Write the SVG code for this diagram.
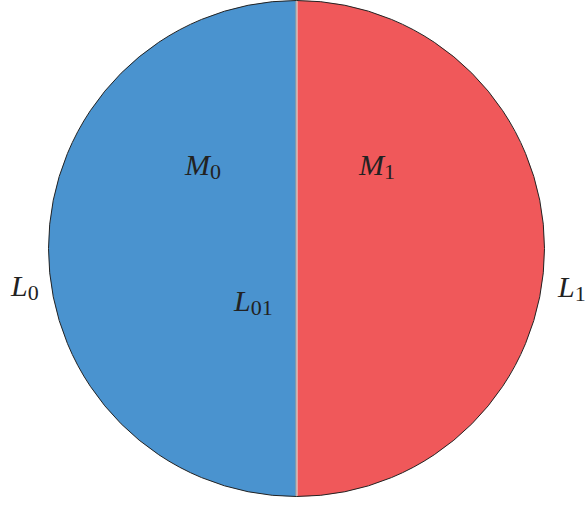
<svg xmlns="http://www.w3.org/2000/svg" width="587" height="505" viewBox="0 0 587 505">
<style>
.lbl{font-family:"Liberation Serif","DejaVu Serif",serif;font-size:30px;fill:#222;font-style:italic}
.sub{font-style:normal;font-size:22px}
</style>
<rect width="587" height="505" fill="#fff"/>
<g id="M0">
<path d="M296.5,0.5 A248,248 0 0 0 296.5,496.5 Z" fill="#4a93cf"/>
</g>
<g id="M1">
<path d="M296.5,0.5 A248,248 0 0 1 296.5,496.5 Z" fill="#f0585a"/>
</g>
<g id="connectors">
<line x1="296.5" y1="0.5" x2="296.5" y2="496.5" stroke="#e8e8e8" stroke-width="2"/>
<line x1="296" y1="0.5" x2="296" y2="496.5" stroke="#444" stroke-width="0.6"/>
<circle cx="296.5" cy="248.5" r="248" fill="none" stroke="#222" stroke-width="1"/>
</g>
<g id="labels">
<text class="lbl" x="185" y="175">M<tspan class="sub" dy="4">0</tspan></text>
<text class="lbl" x="359" y="175">M<tspan class="sub" dy="4">1</tspan></text>
<text class="lbl" x="234" y="311">L<tspan class="sub" dy="4">01</tspan></text>
<text class="lbl" x="11" y="296">L<tspan class="sub" dy="4">0</tspan></text>
<text class="lbl" x="558" y="297">L<tspan class="sub" dy="4">1</tspan></text>
</g>
</svg>
